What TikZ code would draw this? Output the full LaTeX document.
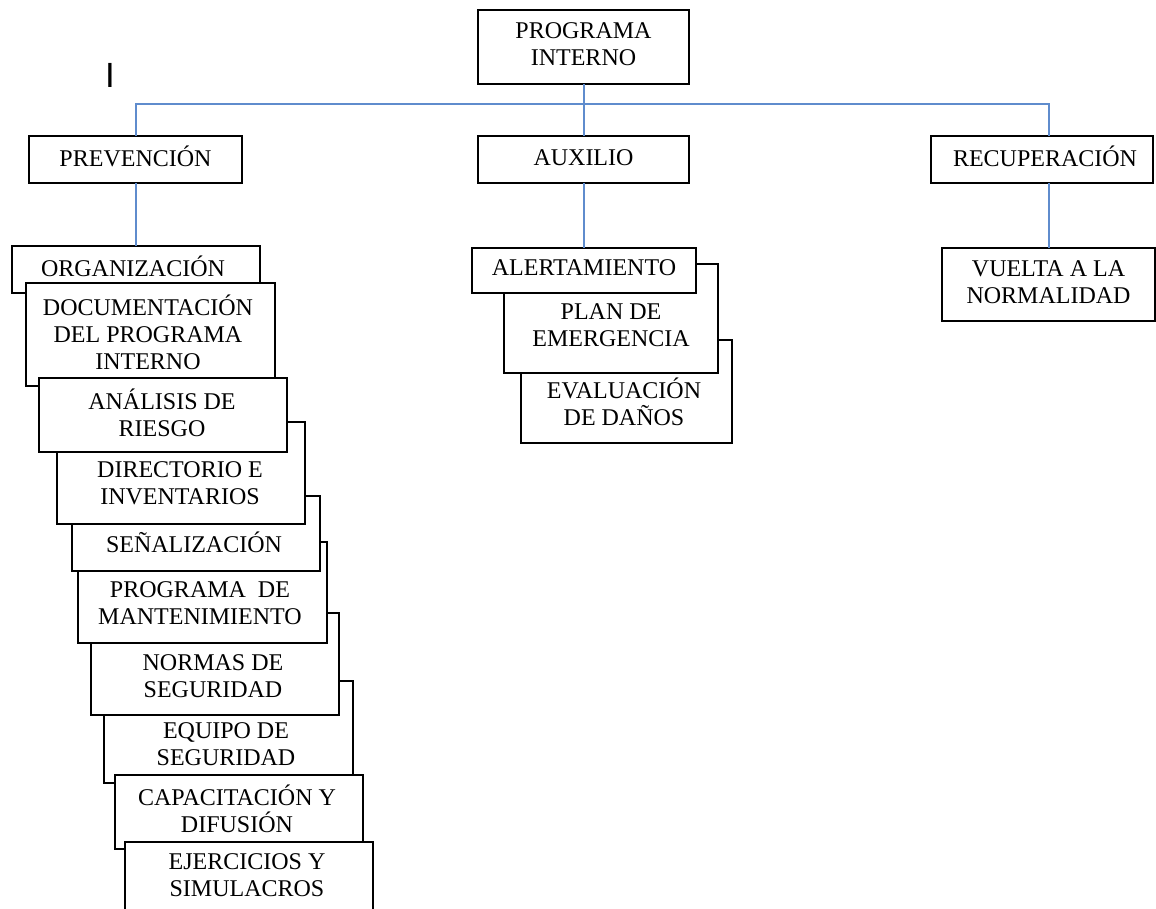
\documentclass[tikz,border=0pt]{standalone}
\usepackage{fontspec}
\setmainfont{Liberation Serif}
\newfontfamily\markfont{Liberation Sans}
\definecolor{connblue}{RGB}{95,140,205}
\begin{document}
\begin{tikzpicture}[x=1pt,y=-1pt,
  bx/.style={draw=black, line width=1.8pt, fill=white, inner sep=0pt, outer sep=0pt},
  tx/.style={align=center, inner sep=0pt, yshift=-2.6pt, text=black,
    font=\fontsize{24}{27}\selectfont,
    execute at begin node=\strut, execute at end node=\strut},
  conn/.style={draw=connblue, line width=2pt}]
\clip (0,0) rectangle (1156,909);
\fill[white] (0,0) rectangle (1156,909);

% stray mark
\node[inner sep=0pt, font=\markfont\fontsize{35}{35}\selectfont] (mark) at (110,75.5) {I};

% top level
\node[bx, minimum width=211pt, minimum height=74pt] (prog) at (583.5,47) {};
\node[tx] (progt) at (583.5,46) {PROGRAMA\\INTERNO};

\node[bx, minimum width=213pt, minimum height=47pt] (prev) at (135.5,159.5) {};
\node[tx] (prevt) at (135.5,158) {PREVENCIÓN};

\node[bx, minimum width=211pt, minimum height=47pt] (aux) at (583.5,159.5) {};
\node[tx] (auxt) at (583.5,158) {AUXILIO};

\node[bx, minimum width=222pt, minimum height=47pt] (recup) at (1042,159.5) {};
\node[tx] (recupt) at (1045,158) {RECUPERACIÓN};

\node[bx, minimum width=213pt, minimum height=73pt] (vuelta) at (1048.5,284.5) {};
\node[tx] (vueltat) at (1048.5,283.5) {VUELTA A LA\\NORMALIDAD};

% prevention stack
\node[bx, minimum width=248pt, minimum height=47pt] (org) at (136,269.5) {};
\node[tx] (orgt) at (133,268) {ORGANIZACIÓN};

\node[bx, minimum width=249pt, minimum height=103pt] (doc) at (150.5,334.5) {};
\node[tx] (doct) at (148,334) {DOCUMENTACIÓN\\DEL PROGRAMA\\INTERNO};

\node[bx, minimum width=249pt, minimum height=102pt] (equip) at (228.5,732) {};
\node[tx] (equipt) at (226,745) {EQUIPO DE\\SEGURIDAD};

\node[bx, minimum width=248pt, minimum height=102pt] (norm) at (215,664) {};
\node[tx] (normt) at (213,677) {NORMAS DE\\SEGURIDAD};

\node[bx, minimum width=249pt, minimum height=101pt] (pmant) at (202.5,592.5) {};
\node[tx] (pmantt) at (200,605) {PROGRAMA\ \ DE\\MANTENIMIENTO};

\node[bx, minimum width=248pt, minimum height=75pt] (sen) at (196,533.5) {};
\node[tx] (sent) at (194,544) {SEÑALIZACIÓN};

\node[bx, minimum width=248pt, minimum height=102pt] (dir) at (181,473) {};
\node[tx] (dirt) at (180,485) {DIRECTORIO E\\INVENTARIOS};

\node[bx, minimum width=248pt, minimum height=74pt] (anal) at (163,415) {};
\node[tx] (analt) at (162,414) {ANÁLISIS DE\\RIESGO};

\node[bx, minimum width=248pt, minimum height=74pt] (cap) at (239,812) {};
\node[tx] (capt) at (237,810) {CAPACITACIÓN Y\\DIFUSIÓN};

\node[bx, minimum width=248pt, minimum height=74pt] (ejer) at (249,879) {};
\node[tx] (ejert) at (247,876) {EJERCICIOS Y\\SIMULACROS};

% auxilio stack
\node[bx, minimum width=211pt, minimum height=103pt] (eval) at (626.5,391.5) {};
\node[tx] (evalt) at (624,403) {EVALUACIÓN\\DE DAÑOS};

\node[bx, minimum width=214pt, minimum height=109pt] (plan) at (611,318.5) {};
\node[tx] (plant) at (611,327) {PLAN DE\\EMERGENCIA};

\node[bx, minimum width=224pt, minimum height=45pt] (alert) at (584,270.5) {};
\node[tx] (alertt) at (584,268) {ALERTAMIENTO};

% connectors
\path (prog.south) ++(0,20) coordinate (bus);
\draw[conn] (prog.south) -- (bus);
\draw[conn] (prev.north) |- (bus);
\draw[conn] (aux.north) -- (bus);
\draw[conn] (bus) -| (vuelta.north |- recup.north);
\draw[conn] (prev.south) -- (prev.south |- org.north);
\draw[conn] (aux.south) -- (aux.south |- alert.north);
\draw[conn] (vuelta.north |- recup.south) -- (vuelta.north);
\end{tikzpicture}
\end{document}
